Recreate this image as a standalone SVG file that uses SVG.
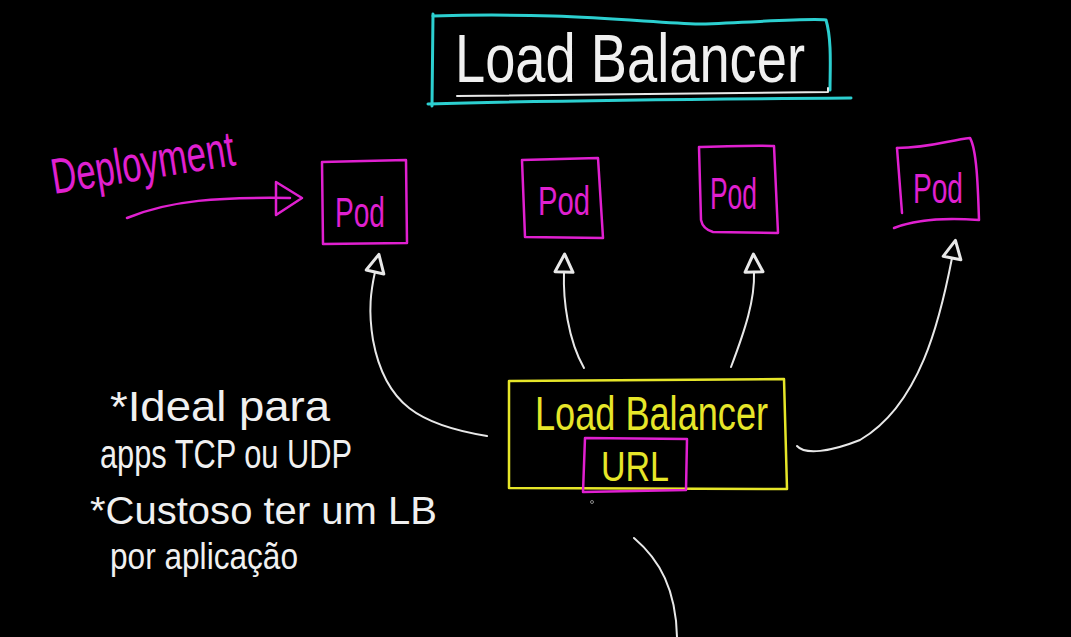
<svg xmlns="http://www.w3.org/2000/svg" width="1071" height="637" viewBox="0 0 1071 637">
<defs>
<style>
text{font-family:"Liberation Sans","DejaVu Sans",sans-serif;font-weight:normal}
.mag{stroke:#e020d0;fill:none;stroke-width:2.5;stroke-linecap:round;stroke-linejoin:round}
.wht{stroke:#e8e8e8;fill:none;stroke-width:2;stroke-linecap:round;stroke-linejoin:round}
.cyan{stroke:#2ccfd0;fill:none;stroke-width:3;stroke-linecap:round;stroke-linejoin:round}
.yel{stroke:#e6e629;fill:none;stroke-width:2.5;stroke-linejoin:round}
.tw{fill:#f0f0f0}
.tm{fill:#e020d0}
.ty{fill:#e6e629}
</style>
<marker id="tri" viewBox="0 0 24 24" refX="3" refY="12" markerWidth="24" markerHeight="24" markerUnits="userSpaceOnUse" orient="auto">
<path d="M3,3 L21,12 L3,21 Z" fill="#000" stroke="#e8e8e8" stroke-width="3" stroke-linejoin="round"/>
</marker>
</defs>
<rect width="1071" height="637" fill="#000"/>

<g id="title">
<path class="cyan" d="M433,16 C560,12 640,22 700,24 C760,22 810,18 826,20 C832,40 830,70 830,90"/>
<path class="cyan" d="M433,14 L432,106"/>
<path class="cyan" d="M428,104 C560,100 700,99 851,98"/>
<path class="wht" d="M457,96 C600,94 720,93 828,92 L828,88" stroke-width="1.5"/>
<text class="tw" x="455" y="82" font-size="68" textLength="350" lengthAdjust="spacingAndGlyphs">Load  Balancer</text>
</g>

<g id="deployment">
<text class="tm" x="54" y="194" font-size="50" transform="rotate(-9 54 194)" textLength="185" lengthAdjust="spacingAndGlyphs">Deployment</text>
<path class="mag" d="M127,218 C170,200 220,197 290,198"/>
<path class="mag" d="M276,182 L302,198 L276,215 Z"/>
</g>

<g id="pod1">
<path class="mag" d="M322,162 L406,160 L407,243 L323,244 Z"/>
<text class="tm" x="335" y="227" font-size="42" textLength="50" lengthAdjust="spacingAndGlyphs">Pod</text>
</g>
<g id="pod2">
<path class="mag" d="M522,160 L598,158 L603,238 L525,237 Z"/>
<text class="tm" x="538" y="215" font-size="40" textLength="52" lengthAdjust="spacingAndGlyphs">Pod</text>
</g>
<g id="pod3">
<path class="mag" d="M699,147 C730,146 760,145 774,146 L778,233 L713,232 C706,230 702,225 701,220 Z"/>
<text class="tm" x="710" y="209" font-size="44" textLength="47" lengthAdjust="spacingAndGlyphs">Pod</text>
</g>
<g id="pod4">
<path class="mag" d="M897,148 C930,148 950,140 970,138 C977,150 978,190 979,220 C950,218 920,218 894,228"/>
<path class="mag" d="M897,148 L902,213"/>
<text class="tm" x="913" y="203" font-size="42" textLength="50" lengthAdjust="spacingAndGlyphs">Pod</text>
</g>

<g id="lb">
<path class="yel" d="M509,381 L784,379 L787,489 L509,488 Z"/>
<text class="ty" x="535" y="430" font-size="48" textLength="233" lengthAdjust="spacingAndGlyphs">Load  Balancer</text>
</g>

<g id="url">
<path class="mag" d="M585,438 L687,439 L686,490 L583,492 Z" stroke-width="5"/>
<text class="ty" x="601" y="481" font-size="42" textLength="68" lengthAdjust="spacingAndGlyphs">URL</text>
<circle cx="592" cy="502" r="1.5" fill="none" stroke="#aaa" stroke-width="0.8"/>
</g>

<g id="connectors">
<path class="wht" d="M487,436 C420,425 385,405 373,340 C368,310 371,290 375,272" marker-end="url(#tri)"/>
<path class="wht" d="M584,368 C568,340 563,300 564,272" marker-end="url(#tri)"/>
<path class="wht" d="M731,367 C745,330 755,300 754,272" marker-end="url(#tri)"/>
<path class="wht" d="M797,446 C805,455 830,452 860,440 C920,405 940,320 952,258" marker-end="url(#tri)"/>
<path class="wht" d="M634,538 C660,560 676,590 677,637" stroke-width="2.5"/>
</g>

<g id="notes">
<text class="tw" x="110" y="421" font-size="42" textLength="220" lengthAdjust="spacingAndGlyphs">*Ideal para</text>
<text class="tw" x="100" y="468" font-size="40" textLength="252" lengthAdjust="spacingAndGlyphs">apps TCP ou UDP</text>
<text class="tw" x="90" y="524" font-size="38" textLength="347" lengthAdjust="spacingAndGlyphs">*Custoso ter um LB</text>
<text class="tw" x="110" y="569" font-size="36" textLength="188" lengthAdjust="spacingAndGlyphs">por aplicação</text>
</g>
</svg>
